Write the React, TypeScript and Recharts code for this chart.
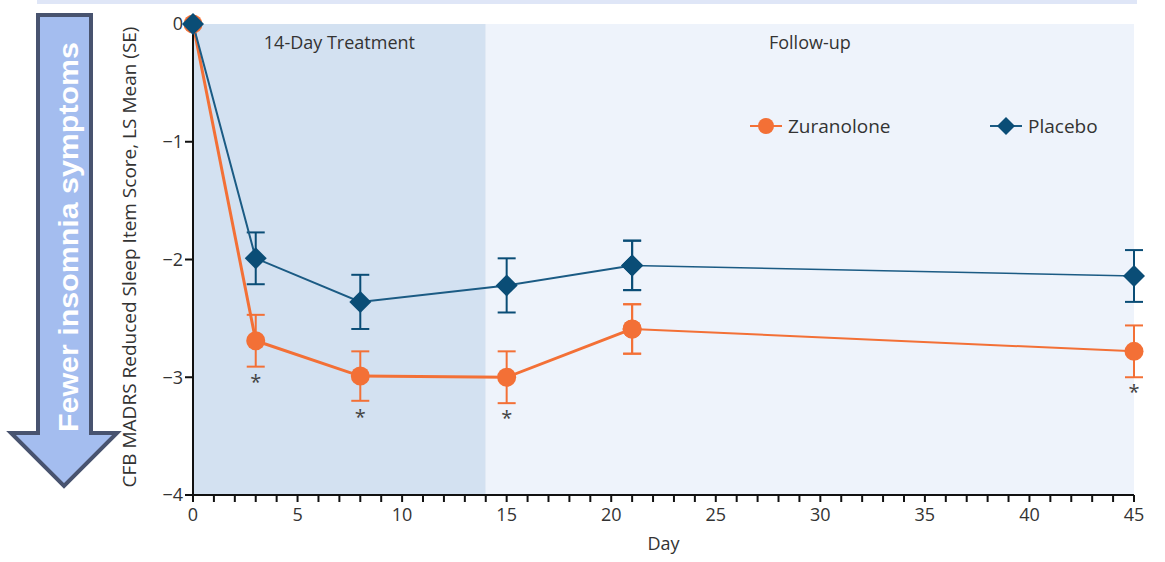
import React from "react";
import {
  LineChart,
  Line,
  XAxis,
  YAxis,
  ErrorBar,
  ReferenceArea,
  LabelList,
} from "recharts";

const days = [0, 3, 8, 15, 21, 45];
const zuranolone = [0, -2.69, -2.99, -3.0, -2.59, -2.78];
const zuranoloneSE = [0, 0.22, 0.21, 0.22, 0.21, 0.22];
const placebo = [0, -1.99, -2.36, -2.22, -2.05, -2.14];
const placeboSE = [0, 0.22, 0.23, 0.23, 0.21, 0.22];
const significant = [false, true, true, true, false, true];

const xTicks = Array.from({ length: 46 }, (_, i) => i);
const yTicks = [0, -1, -2, -3, -4];

// treatment phase lines are drawn heavier than follow-up (index 4 = day 21)
const SPLIT = 4;

const data = days.map((day, i) => ({
  day,
  zurA: i <= SPLIT ? zuranolone[i] : null,
  zurB: i >= SPLIT ? zuranolone[i] : null,
  zurSE: zuranoloneSE[i],
  plA: i <= SPLIT ? placebo[i] : null,
  plB: i >= SPLIT ? placebo[i] : null,
  plSE: placeboSE[i],
  star: significant[i] ? "*" : "",
}));

const ORANGE = "#f37036";
const BLUE = "#0a4d76";
const BLUE_LINE = "#1b5b84";
const FONT = "'Open Sans', 'Noto Sans', sans-serif";

const CircleDot = (props: any) => {
  const { cx, cy, value } = props;
  if (value == null || cy == null) return null;
  return <circle cx={cx} cy={cy} r={9.5} fill={ORANGE} />;
};

const DiamondDot = (props: any) => {
  const { cx, cy, value } = props;
  if (value == null || cy == null) return null;
  const s = 11;
  return (
    <polygon
      points={`${cx},${cy - s} ${cx + s},${cy} ${cx},${cy + s} ${cx - s},${cy}`}
      fill={BLUE}
    />
  );
};

// stars only where the series actually has a point
const makeStar = (from: number, to: number) => (props: any) => {
  const { x, y, value, index } = props;
  if (value !== "*" || index < from || index > to || y == null || isNaN(y)) return null;
  return (
    <text x={x} y={y + 48} textAnchor="middle" fontSize={20} fill="#444" fontFamily={FONT}>
      *
    </text>
  );
};
const StarA = makeStar(0, SPLIT);
const StarB = makeStar(SPLIT + 1, days.length - 1);

const fmtY = (v: number) => (v < 0 ? "\u2212" + Math.abs(v) : String(v));
const fmtX = (v: number) => (v % 5 === 0 ? String(v) : "");

export default function App() {
  return (
    <div
      style={{
        position: "absolute",
        left: 0,
        top: 0,
        width: 1165,
        height: 562,
        background: "#fff",
        fontFamily: FONT,
      }}
    >
      <div
        style={{
          position: "absolute",
          left: 37,
          top: 0,
          width: 1100,
          height: 4,
          background: "#dfe6f7",
        }}
      />
      <LineChart
        width={1165}
        height={562}
        data={data}
        margin={{ top: 24, right: 31, bottom: 12, left: 133 }}
      >
        <ReferenceArea
          x1={0}
          x2={14}
          y1={-4}
          y2={0}
          fill="#d3e1f1"
          fillOpacity={1}
          stroke="none"
          ifOverflow="visible"
          label={{
            value: "14-Day Treatment",
            position: "insideTop",
            offset: 12,
            fill: "#333",
            fontSize: 18,
            fontFamily: FONT,
          }}
        />
        <ReferenceArea
          x1={14}
          x2={45}
          y1={-4}
          y2={0}
          fill="#eef3fb"
          fillOpacity={1}
          stroke="none"
          ifOverflow="visible"
          label={{
            value: "Follow-up",
            position: "insideTop",
            offset: 12,
            fill: "#333",
            fontSize: 18,
            fontFamily: FONT,
          }}
        />
        <XAxis
          dataKey="day"
          type="number"
          domain={[0, 45]}
          ticks={xTicks}
          interval={0}
          tickFormatter={fmtX}
          height={55}
          axisLine={{ stroke: "#111", strokeWidth: 2 }}
          tickLine={{ stroke: "#111", strokeWidth: 2 }}
          tickSize={7}
          tick={{ fill: "#333", fontSize: 18, fontFamily: FONT, dy: 4 }}
          label={{
            value: "Day",
            position: "insideBottom",
            offset: 0,
            fill: "#333",
            fontSize: 18,
            fontFamily: FONT,
          }}
        />
        <YAxis
          type="number"
          domain={[-4, 0]}
          ticks={yTicks}
          interval={0}
          tickFormatter={fmtY}
          width={60}
          axisLine={{ stroke: "#111", strokeWidth: 2 }}
          tickLine={{ stroke: "#111", strokeWidth: 2 }}
          tickSize={8}
          tick={{ fill: "#333", fontSize: 18, fontFamily: FONT }}
        />
        <Line
          dataKey="zurB"
          stroke={ORANGE}
          strokeWidth={2}
          dot={<CircleDot />}
          activeDot={false}
          isAnimationActive={false}
          legendType="none"
        >
          <ErrorBar dataKey="zurSE" width={9} strokeWidth={2} stroke={ORANGE} direction="y" />
          <LabelList dataKey="star" content={StarB} />
        </Line>
        <Line
          dataKey="zurA"
          stroke={ORANGE}
          strokeWidth={3}
          dot={<CircleDot />}
          activeDot={false}
          isAnimationActive={false}
          legendType="none"
        >
          <ErrorBar dataKey="zurSE" width={9} strokeWidth={2} stroke={ORANGE} direction="y" />
          <LabelList dataKey="star" content={StarA} />
        </Line>
        <Line
          dataKey="plB"
          stroke={BLUE_LINE}
          strokeWidth={1.5}
          dot={<DiamondDot />}
          activeDot={false}
          isAnimationActive={false}
          legendType="none"
        >
          <ErrorBar dataKey="plSE" width={9} strokeWidth={2} stroke={BLUE} direction="y" />
        </Line>
        <Line
          dataKey="plA"
          stroke={BLUE_LINE}
          strokeWidth={2}
          dot={<DiamondDot />}
          activeDot={false}
          isAnimationActive={false}
          legendType="none"
        >
          <ErrorBar dataKey="plSE" width={9} strokeWidth={2} stroke={BLUE} direction="y" />
        </Line>
      </LineChart>
      <svg
        width={1165}
        height={562}
        style={{ position: "absolute", left: 0, top: 0, pointerEvents: "none" }}
      >
        {/* legend */}
        <g transform="translate(750,114)">
          <line x1={0} y1={12} x2={32} y2={12} stroke={ORANGE} strokeWidth={2} />
          <circle cx={16} cy={12} r={8} fill={ORANGE} />
          <text x={38} y={19} fontSize={19} fill="#333" fontFamily={FONT}>
            Zuranolone
          </text>
          <line x1={240} y1={12} x2={272} y2={12} stroke={BLUE_LINE} strokeWidth={2} />
          <polygon points="256,3 265,12 256,21 247,12" fill={BLUE} />
          <text x={278} y={19} fontSize={19} fill="#333" fontFamily={FONT}>
            Placebo
          </text>
        </g>
        {/* direction arrow */}
        <polygon
          points="38,15 91,15 91,433 117,433 64,486 11,433 38,433"
          fill="#a4bdef"
          stroke="#48536f"
          strokeWidth={4}
          strokeLinejoin="miter"
        />
        <text
          transform="translate(78,432) rotate(-90)"
          fontSize={27}
          fontWeight="bold"
          fill="#fff"
          fontFamily="'Liberation Sans', Arial, sans-serif"
          textLength={390}
          lengthAdjust="spacingAndGlyphs"
        >
          Fewer insomnia symptoms
        </text>
        <text
          transform="translate(136,257) rotate(-90)"
          textAnchor="middle"
          fontSize={19}
          fill="#333"
          fontFamily={FONT}
        >
          CFB MADRS Reduced Sleep Item Score, LS Mean (SE)
        </text>
      </svg>
    </div>
  );
}
